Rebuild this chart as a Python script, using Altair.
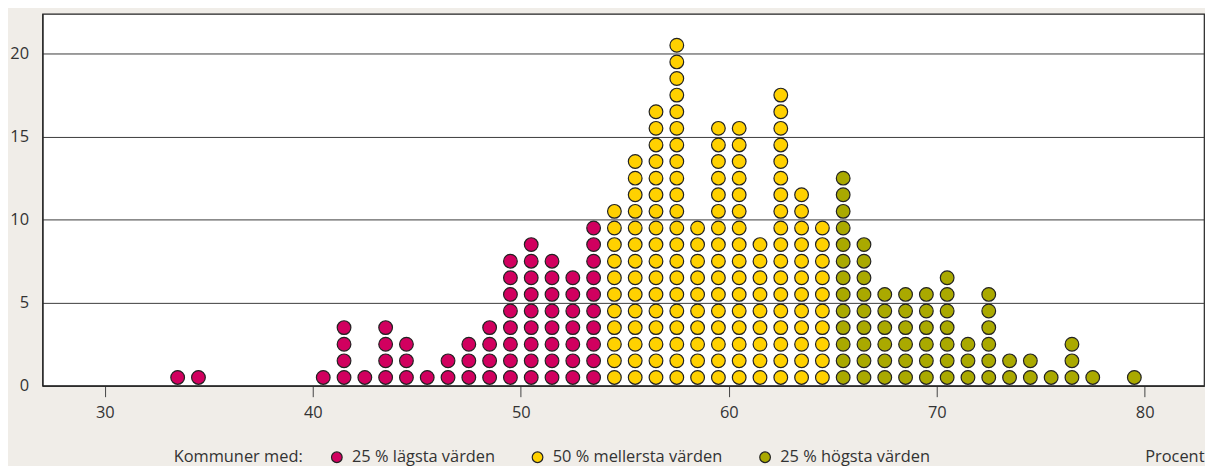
import altair as alt
import pandas as pd

# Column centres (percent) and number of municipalities stacked in each column
x_vals = [33.5, 34.5, 40.5, 41.5, 42.5, 43.5, 44.5, 45.5, 46.5, 47.5, 48.5, 49.5,
          50.5, 51.5, 52.5, 53.5,
          54.5, 55.5, 56.5, 57.5, 58.5, 59.5, 60.5, 61.5, 62.5, 63.5, 64.5,
          65.5, 66.5, 67.5, 68.5, 69.5, 70.5, 71.5, 72.5, 73.5, 74.5, 75.5,
          76.5, 77.5, 79.5]
counts = [1, 1, 1, 4, 1, 4, 3, 1, 2, 3, 4, 8,
          9, 8, 7, 10,
          11, 14, 17, 21, 10, 16, 16, 9, 18, 12, 10,
          13, 9, 6, 6, 6, 7, 3, 6, 2, 2, 1,
          3, 1, 1]
group_names = ["25 % lägsta värden", "50 % mellersta värden", "25 % högsta värden"]
group_idx = [0] * 16 + [1] * 11 + [2] * 14
colors = ["#D1005F", "#FFD100", "#AAA900"]

rows = []
for xv, c, g in zip(x_vals, counts, group_idx):
    for i in range(c):
        rows.append({"x": xv, "y": i + 0.5, "grupp": group_names[g]})
df = pd.DataFrame(rows)

FONT = "Open Sans"
FS = 16.5
W, H = 1169, 374.4

chart = alt.Chart(df).mark_circle(
    size=190, opacity=1, stroke="#222222", strokeWidth=1.2
).encode(
    x=alt.X("x:Q",
            scale=alt.Scale(domain=[27, 82.85], nice=False, zero=False),
            axis=alt.Axis(values=[30, 40, 50, 60, 70, 80], title="Procent",
                          grid=False, tickSize=11, tickColor="#444444",
                          tickWidth=1, domainColor="#222222", domainWidth=1.2,
                          labelFontSize=FS, labelColor="#333333", labelFont=FONT,
                          labelPadding=8, labelFlush=False,
                          titleFont=FONT, titleFontSize=FS, titleFontWeight="normal",
                          titleColor="#333333", titleAnchor="end", titleAlign="right",
                          titleBaseline="middle", titleX=W, titleY=71)),
    y=alt.Y("y:Q",
            scale=alt.Scale(domain=[0, 22.4], nice=False),
            axis=alt.Axis(values=[0, 5, 10, 15, 20], title=None, ticks=False,
                          grid=True, gridColor="#3a3a3a", gridWidth=1,
                          domainColor="#222222", domainWidth=1.2,
                          labelFontSize=FS, labelColor="#333333", labelFont=FONT,
                          labelPadding=14)),
    color=alt.Color("grupp:N",
                    scale=alt.Scale(domain=group_names, range=colors),
                    legend=alt.Legend(
                        title="Kommuner med:", titleOrient="left",
                        orient="none", legendX=132, legendY=438,
                        direction="horizontal", columnPadding=34,
                        titleFont=FONT, titleFontSize=FS, titleFontWeight="normal",
                        titleColor="#333333", titlePadding=25,
                        titleBaseline="middle", titleLimit=400,
                        labelFont=FONT, labelFontSize=FS, labelColor="#333333",
                        labelLimit=400,
                        labelOffset=7, symbolType="circle", symbolSize=115,
                        symbolStrokeColor="#222222", symbolStrokeWidth=1.2,
                        symbolOpacity=1)),
).properties(
    width=W, height=H,
    autosize=alt.AutoSizeParams(type="none"),
    padding={"left": 34.7, "top": 4.3, "right": 1, "bottom": 79.3},
    background="#F0EDE8",
).configure_view(
    fill="white", stroke="#222222", strokeWidth=1.2
)

chart.save("out.html", embed_options={"renderer": "svg", "actions": False})
